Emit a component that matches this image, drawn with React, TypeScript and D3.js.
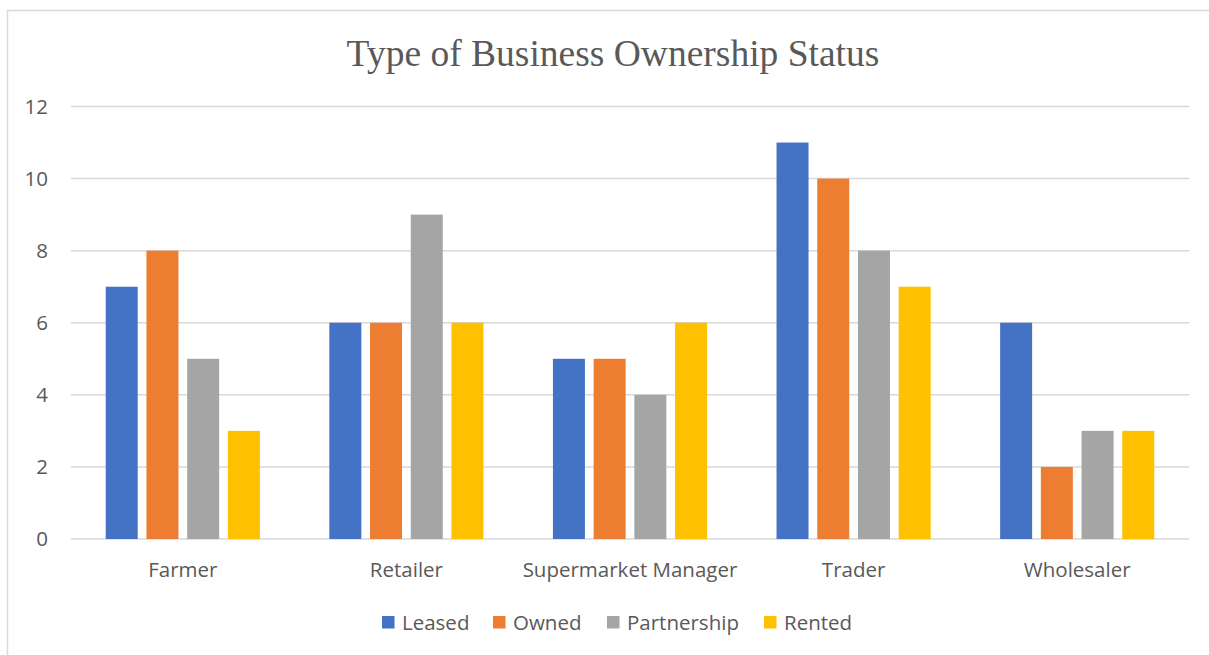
import React from "react";
import * as d3 from "d3";

const categories = ["Farmer", "Retailer", "Supermarket Manager", "Trader", "Wholesaler"];
const seriesNames = ["Leased", "Owned", "Partnership", "Rented"];
const leased = [7, 6, 5, 11, 6];
const owned = [8, 6, 5, 10, 2];
const partnership = [5, 9, 4, 8, 3];
const rented = [3, 6, 6, 7, 3];
const yTicks = [0, 2, 4, 6, 8, 10, 12];
const colors = ["#4472C4", "#ED7D31", "#A5A5A5", "#FFC000"];

const W = 1209;
const H = 655;
const plot = { left: 71, right: 1189, top: 106.5, bottom: 539 };
const font = "'Open Sans', 'Liberation Sans', sans-serif";
const fs = 20.5;

export default function App() {
  const series = [leased, owned, partnership, rented];
  const x = d3
    .scaleBand<string>()
    .domain(categories)
    .range([plot.left, plot.right])
    .paddingInner(0)
    .paddingOuter(0);
  const y = d3.scaleLinear().domain([0, 12]).range([plot.bottom, plot.top]);
  const band = x.bandwidth();
  const barW = band * 0.1431;
  const gap = band * 0.039;
  const groupW = barW * 4 + gap * 3;
  const legendX = [382, 493, 607, 764];

  return (
    <svg
      width={W}
      height={H}
      style={{ position: "absolute", left: 0, top: 0, background: "#fff" }}
    >
      <rect x={7.5} y={10.5} width={1240} height={700} fill="#fff" stroke="#d9d9d9" strokeWidth={1.5} />
      <text
        x={613}
        y={66}
        textAnchor="middle"
        fontFamily="'Liberation Serif', 'Times New Roman', serif"
        fontSize={37.5}
        fill="#595959"
      >
        Type of Business Ownership Status
      </text>
      {yTicks.map((t) => (
        <g key={t}>
          <line x1={plot.left} x2={plot.right} y1={y(t)} y2={y(t)} stroke="#d9d9d9" strokeWidth={1.5} />
          <text
            x={48}
            y={y(t) + 7}
            textAnchor="end"
            fontFamily={font}
            fontSize={fs}
            fill="#595959"
          >
            {t}
          </text>
        </g>
      ))}
      {categories.map((c, i) => {
        const x0 = (x(c) as number) + (band - groupW) / 2;
        return (
          <g key={c}>
            {series.map((s, j) => (
              <rect
                key={j}
                x={x0 + j * (barW + gap)}
                y={y(s[i])}
                width={barW}
                height={y(0) - y(s[i])}
                fill={colors[j]}
              />
            ))}
            <text
              x={(x(c) as number) + band / 2}
              y={577}
              textAnchor="middle"
              fontFamily={font}
              fontSize={fs}
              fill="#595959"
            >
              {c}
            </text>
          </g>
        );
      })}
      {seriesNames.map((n, j) => (
        <g key={n}>
          <rect x={legendX[j]} y={616} width={12.5} height={12.5} fill={colors[j]} />
          <text x={legendX[j] + 20} y={629.5} fontFamily={font} fontSize={fs} fill="#595959">
            {n}
          </text>
        </g>
      ))}
    </svg>
  );
}
